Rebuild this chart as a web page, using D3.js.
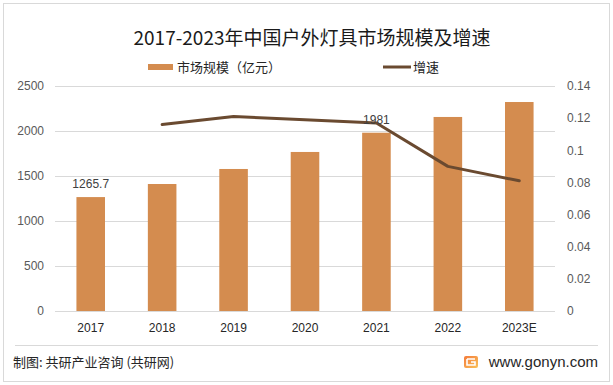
<!DOCTYPE html>
<html>
<head>
<meta charset="utf-8">
<script src="https://cdn.jsdelivr.net/npm/d3@7"></script>
<style>
  body { margin: 0; background: #fff; }
  svg { display: block; font-family: "Liberation Sans", Arial, sans-serif; }
  .cjk { font-family: "Noto Sans CJK SC", sans-serif; }
</style>
</head>
<body>
<div id="chart"></div>
<script>
var width = 613;
var height = 385;

// data
var years = ["2017", "2018", "2019", "2020", "2021", "2022", "2023E"];
var marketSize = [1265.7, 1411, 1578, 1767, 1981, 2156, 2322];
var growth = [null, 0.116, 0.121, 0.119, 0.117, 0.090, 0.081];
var leftTicks = [0, 500, 1000, 1500, 2000, 2500];
var rightTicks = [0, 0.02, 0.04, 0.06, 0.08, 0.1, 0.12, 0.14];
var labelled = {"2017": "1265.7", "2021": "1981"};

var barColor = "#d48c4f";
var lineColor = "#6a4a30";

var svg = d3.select("#chart").append("svg")
  .attr("width", width)
  .attr("height", height);

// outer frame
svg.append("rect")
  .attr("x", 3.5).attr("y", 3.5)
  .attr("width", width - 7).attr("height", height - 7)
  .attr("fill", "#fff")
  .attr("stroke", "#d9d9d9");

var x = d3.scaleBand()
  .domain(years)
  .range([55, 555])
  .paddingInner(0.6)
  .paddingOuter(0.3);

var y = d3.scaleLinear()
  .domain([0, 2500])
  .range([311, 86]);

var y2 = d3.scaleLinear()
  .domain([0, 0.14])
  .range([311, 86]);

// grid
svg.append("g")
  .selectAll("line")
  .data(leftTicks)
  .join("line")
    .attr("x1", 55).attr("x2", 555)
    .attr("y1", d => Math.round(y(d)) + 0.5)
    .attr("y2", d => Math.round(y(d)) + 0.5)
    .attr("stroke", "#d9d9d9");

// left axis
svg.append("g")
  .attr("transform", "translate(55,0)")
  .call(d3.axisLeft(y).tickValues(leftTicks).tickSize(0).tickPadding(11).tickFormat(d3.format("d")))
  .call(g => g.select(".domain").remove())
  .call(g => g.selectAll("text").attr("fill", "#595959").attr("font-size", 12).attr("font-family", "Liberation Sans, Arial, sans-serif"));

// right axis
svg.append("g")
  .attr("transform", "translate(555,0)")
  .call(d3.axisRight(y2).tickValues(rightTicks).tickSize(0).tickPadding(12)
    .tickFormat(d => String(+d.toFixed(2))))
  .call(g => g.select(".domain").remove())
  .call(g => g.selectAll("text").attr("fill", "#595959").attr("font-size", 12).attr("font-family", "Liberation Sans, Arial, sans-serif"));

// x labels
svg.append("g")
  .attr("transform", "translate(0,311)")
  .call(d3.axisBottom(x).tickSize(0).tickPadding(12))
  .call(g => g.select(".domain").remove())
  .call(g => g.selectAll("text").attr("fill", "#262626").attr("font-size", 12).attr("font-family", "Liberation Sans, Arial, sans-serif"));

// bars
svg.append("g")
  .selectAll("rect")
  .data(years)
  .join("rect")
    .attr("x", d => x(d))
    .attr("width", x.bandwidth())
    .attr("y", (d, i) => y(marketSize[i]))
    .attr("height", (d, i) => y(0) - y(marketSize[i]))
    .attr("fill", barColor);

// line
var line = d3.line()
  .defined(d => d.v != null)
  .x(d => x(d.year) + x.bandwidth() / 2)
  .y(d => y2(d.v));

svg.append("path")
  .datum(years.map((yr, i) => ({year: yr, v: growth[i]})))
  .attr("d", line)
  .attr("fill", "none")
  .attr("stroke", lineColor)
  .attr("stroke-width", 3)
  .attr("stroke-linejoin", "round")
  .attr("stroke-linecap", "round");

// data labels
svg.append("g")
  .selectAll("text")
  .data(years.filter(d => labelled[d]))
  .join("text")
    .attr("x", d => x(d) + x.bandwidth() / 2)
    .attr("y", d => y(marketSize[years.indexOf(d)]) - 9)
    .attr("text-anchor", "middle")
    .attr("font-size", 12)
    .attr("fill", "#404040")
    .text(d => labelled[d]);

// title
svg.append("text")
  .attr("class", "cjk")
  .attr("x", 312)
  .attr("y", 45)
  .attr("text-anchor", "middle")
  .attr("font-size", 19)
  .attr("fill", "#1a1a1a")
  .text("2017-2023年中国户外灯具市场规模及增速");

// legend
var legend = svg.append("g").attr("class", "cjk").attr("font-size", 13).attr("fill", "#262626");
legend.append("rect")
  .attr("x", 148).attr("y", 64).attr("width", 25).attr("height", 6)
  .attr("fill", barColor);
legend.append("text")
  .attr("x", 177).attr("y", 72)
  .text("市场规模（亿元）");
legend.append("line")
  .attr("x1", 383).attr("x2", 411).attr("y1", 67).attr("y2", 67)
  .attr("stroke", lineColor).attr("stroke-width", 3);
legend.append("text")
  .attr("x", 413).attr("y", 72)
  .text("增速");

// footer
svg.append("line")
  .attr("x1", 15).attr("x2", 598)
  .attr("y1", 345.5).attr("y2", 345.5)
  .attr("stroke", "#d9d9d9");

svg.append("text")
  .attr("class", "cjk")
  .attr("x", 13).attr("y", 367)
  .attr("font-size", 13)
  .attr("fill", "#262626")
  .text("制图: 共研产业咨询 (共研网)");

var logo = svg.append("g").attr("transform", "translate(464,356)");
var grad = svg.append("defs").append("linearGradient")
  .attr("id", "lg").attr("x1", 0).attr("x2", 1).attr("y1", 0).attr("y2", 1);
grad.append("stop").attr("offset", 0).attr("stop-color", "#f47a3a");
grad.append("stop").attr("offset", 1).attr("stop-color", "#f9c25a");
logo.append("rect")
  .attr("width", 14).attr("height", 12).attr("rx", 2)
  .attr("fill", "url(#lg)");
logo.append("path")
  .attr("d", "M3,3 H11 M7,6 H11 V9 H3 V3")
  .attr("fill", "none").attr("stroke", "#fff").attr("stroke-width", 1.6);

svg.append("text")
  .attr("x", 598).attr("y", 367)
  .attr("text-anchor", "end")
  .attr("font-size", 15)
  .attr("fill", "#262626")
  .text("www.gonyn.com");
</script>
</body>
</html>
